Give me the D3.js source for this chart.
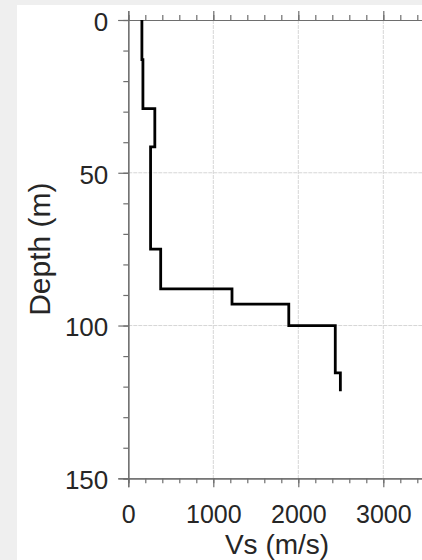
<!DOCTYPE html>
<html>
<head>
<meta charset="utf-8">
<script src="https://cdn.jsdelivr.net/npm/d3@7"></script>
<style>
  html, body { margin: 0; padding: 0; background: #efefef; }
  svg { display: block; }
</style>
</head>
<body>
<svg id="chart" width="422" height="560"></svg>
<script>
// ---- data ----
const layerDepths = [0, 13, 29, 41.5, 75, 88, 93, 100, 115.5, 121.5]; // layer boundaries (m)
const layerVs = [160, 172, 312, 262, 381, 1220, 1888, 2435, 2495];     // Vs per layer (m/s)
const xMajorTicks = [0, 1000, 2000, 3000];
const yMajorTicks = [0, 50, 100, 150];
const xLabel = "Vs (m/s)";
const yLabel = "Depth (m)";

// ---- layout ----
const svg = d3.select("#chart");
const W = 422, H = 560;
const plot = { left: 128.3, top: 20, right: 425.8, bottom: 478.3 };

svg.append("rect").attr("x", 17).attr("y", 5).attr("width", W - 17).attr("height", H - 5).attr("fill", "#ffffff");

const x = d3.scaleLinear().domain([0, 3500]).range([plot.left, plot.right]);
const y = d3.scaleLinear().domain([0, 150]).range([plot.top, plot.bottom]);

const xMinor = d3.range(0, 3501, 200);
const yMinor = d3.range(0, 151, 10);

// grid
const grid = svg.append("g");
grid.selectAll("line.vx").data(xMajorTicks.filter(d => d > 0)).join("line")
  .attr("x1", d => x(d)).attr("x2", d => x(d)).attr("y1", plot.top).attr("y2", plot.bottom)
  .attr("stroke", "#d6d6d6").attr("stroke-width", 1).attr("stroke-dasharray", "4,1");
grid.selectAll("line.hy").data(yMajorTicks.filter(d => d > 0 && d < 150)).join("line")
  .attr("x1", plot.left).attr("x2", plot.right).attr("y1", d => y(d)).attr("y2", d => y(d))
  .attr("stroke", "#d6d6d6").attr("stroke-width", 1).attr("stroke-dasharray", "4,1");

// axes
const axisColor = "#6e6e6e";
function styleAxis(g) {
  g.select(".domain").attr("stroke", axisColor).attr("stroke-width", 1.2);
  g.selectAll(".tick line").attr("stroke", axisColor).attr("stroke-width", 1.2);
  g.selectAll("text").attr("fill", "#262626").attr("font-family", "Liberation Sans, Arial, sans-serif").attr("font-size", 26);
}

// top axis
svg.append("g").attr("transform", `translate(0,${plot.top})`)
  .call(d3.axisTop(x).tickValues(xMinor).tickSize(5).tickFormat("")).call(styleAxis);
svg.append("g").attr("transform", `translate(0,${plot.top})`)
  .call(d3.axisTop(x).tickValues(xMajorTicks).tickSize(9).tickFormat("")).call(styleAxis);

// bottom axis
svg.append("g").attr("transform", `translate(0,${plot.bottom})`)
  .call(d3.axisBottom(x).tickValues(xMinor).tickSize(5).tickFormat("")).call(styleAxis);
const xb = svg.append("g").attr("transform", `translate(0,${plot.bottom})`)
  .call(d3.axisBottom(x).tickValues(xMajorTicks).tickSize(9).tickPadding(0).tickFormat(d3.format("d")));
xb.call(styleAxis);
xb.selectAll("text").attr("dy", null).attr("y", 45).attr("font-size", 25);

// left axis
svg.append("g").attr("transform", `translate(${plot.left},0)`)
  .call(d3.axisLeft(y).tickValues(yMinor).tickSize(5).tickFormat("")).call(styleAxis);
const yl = svg.append("g").attr("transform", `translate(${plot.left},0)`)
  .call(d3.axisLeft(y).tickValues(yMajorTicks).tickSize(10).tickPadding(10).tickFormat(d3.format("d")));
yl.call(styleAxis);
yl.selectAll("text").attr("dy", "0.4em");

// right axis (mostly outside the view)
svg.append("g").attr("transform", `translate(${plot.right},0)`)
  .call(d3.axisRight(y).tickValues(yMinor).tickSize(5).tickFormat("")).call(styleAxis);

// profile
const pts = [];
layerVs.forEach((v, i) => {
  pts.push([v, layerDepths[i]]);
  pts.push([v, layerDepths[i + 1]]);
});
svg.append("path").datum(pts)
  .attr("d", d3.line().x(d => x(d[0])).y(d => y(d[1])))
  .attr("fill", "none").attr("stroke", "#000").attr("stroke-width", 2.8)
  .attr("stroke-linejoin", "miter").attr("stroke-linecap", "butt");

// labels
svg.append("text").attr("x", (plot.left + plot.right) / 2).attr("y", 554)
  .attr("text-anchor", "middle").attr("fill", "#262626")
  .attr("font-family", "Liberation Sans, Arial, sans-serif").attr("font-size", 28)
  .text(xLabel);
svg.append("text").attr("transform", `translate(50,${(plot.top + plot.bottom) / 2}) rotate(-90)`)
  .attr("text-anchor", "middle").attr("fill", "#262626")
  .attr("font-family", "Liberation Sans, Arial, sans-serif").attr("font-size", 30)
  .text(yLabel);
</script>
</body>
</html>
